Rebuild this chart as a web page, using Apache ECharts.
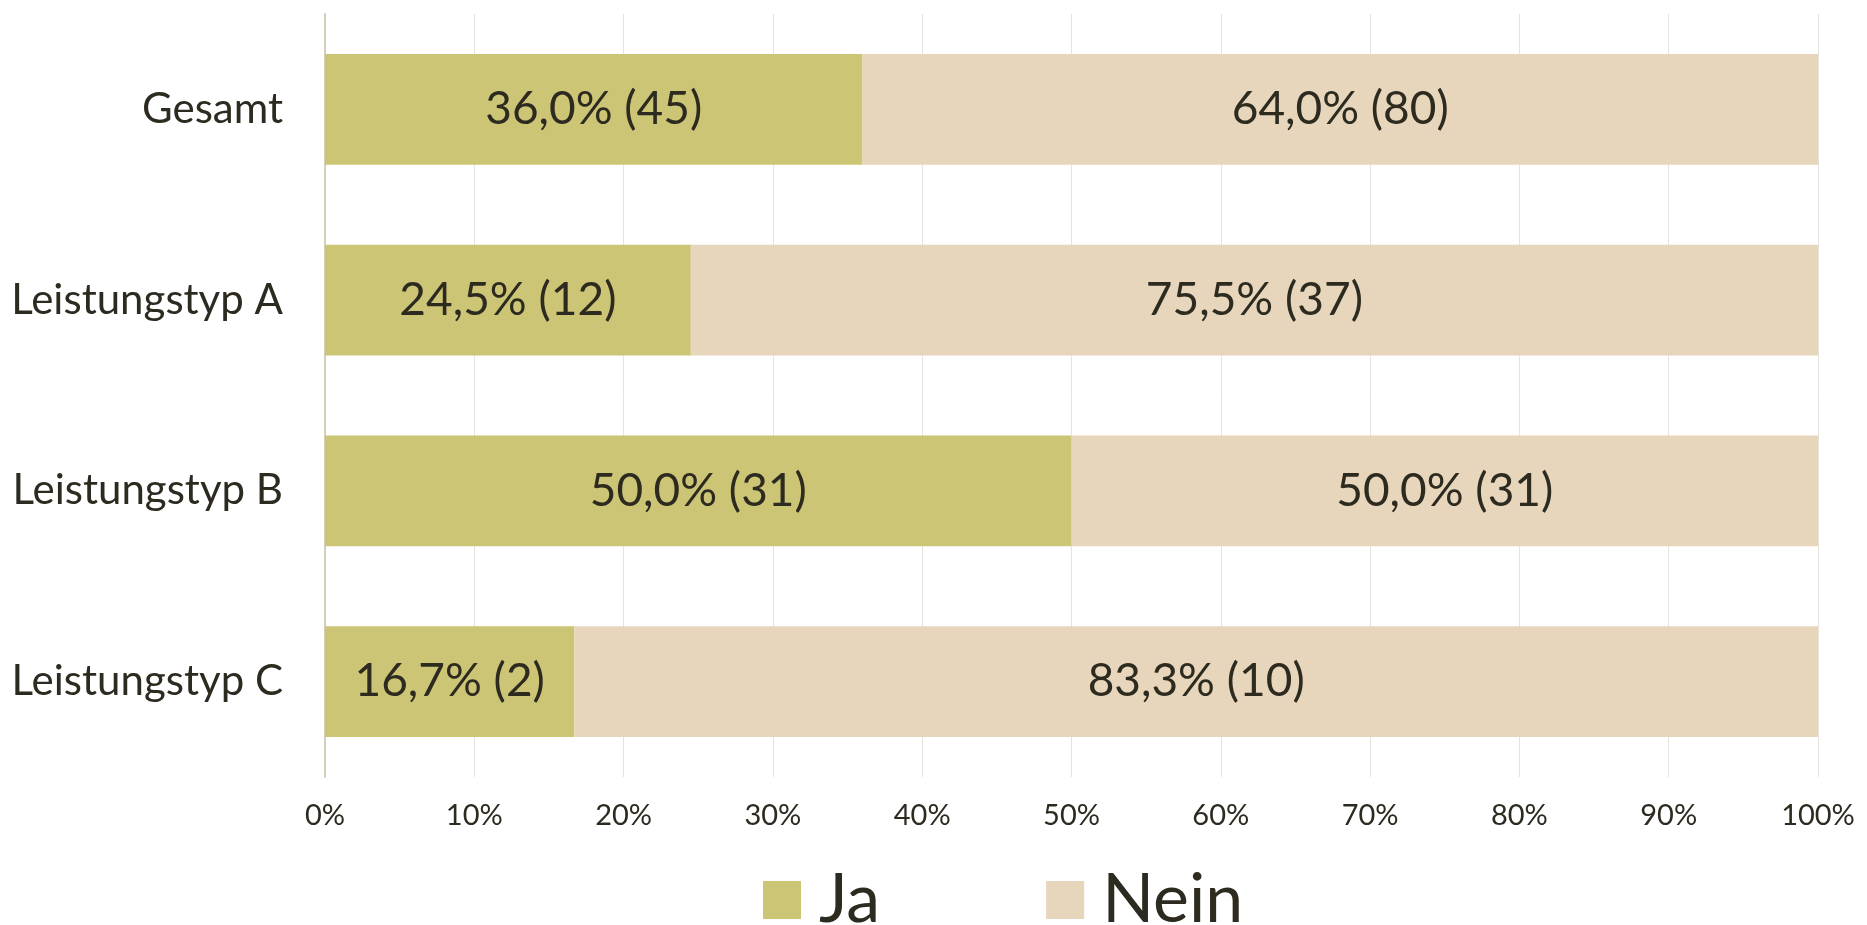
<!DOCTYPE html>
<html>
<head>
<meta charset="utf-8">
<script src="https://cdn.jsdelivr.net/npm/echarts@6/dist/echarts.min.js"></script>
<style>
html,body{margin:0;padding:0;background:#fff;}
#chart{width:1867px;height:925px;}
</style>
</head>
<body>
<div id="chart"></div>
<script>
const categories = ['Gesamt', 'Leistungstyp A', 'Leistungstyp B', 'Leistungstyp C'];
const seriesNames = ['Ja', 'Nein'];
const jaPct = [36.0, 24.5, 50.0, 16.7];
const neinPct = [64.0, 75.5, 50.0, 83.3];
const jaCount = [45, 12, 31, 2];
const neinCount = [80, 37, 31, 10];
const xTicks = [0, 10, 20, 30, 40, 50, 60, 70, 80, 90, 100];

const FONT = 'Lato';
const TXT = '#2D2A20';

function fmt(p, n) {
  return p.toFixed(1).replace('.', ',') + '% (' + n + ')';
}

const chart = echarts.init(document.getElementById('chart'));
chart.setOption({
  animation: false,
  backgroundColor: '#ffffff',
  textStyle: { fontFamily: FONT, color: TXT },
  grid: { left: 325, right: 49, top: 14, bottom: 148, containLabel: false },
  legend: {
    data: seriesNames,
    left: 758,
    top: 861,
    itemWidth: 38,
    itemHeight: 38,
    itemGap: 166,
    icon: 'rect',
    textStyle: { fontFamily: FONT, fontSize: 68, color: TXT, padding: [0, 0, 0, 13] }
  },
  xAxis: {
    type: 'value',
    min: xTicks[0],
    max: xTicks[xTicks.length - 1],
    interval: 10,
    axisLine: { show: false },
    axisTick: { show: false },
    splitLine: { show: true, lineStyle: { color: '#E6E3DA', width: 1 } },
    axisLabel: { margin: 24, fontFamily: FONT, fontSize: 29, color: TXT, formatter: v => v + '%' }
  },
  yAxis: {
    type: 'category',
    inverse: true,
    data: categories,
    axisLine: { show: true, lineStyle: { color: '#D3CFBA', width: 2 } },
    axisTick: { show: false },
    axisLabel: { margin: 42, fontFamily: FONT, fontSize: 42, color: TXT }
  },
  series: [
    {
      name: seriesNames[0],
      type: 'bar',
      stack: 'total',
      barCategoryGap: '42%',
      itemStyle: { color: '#CCC576' },
      label: {
        show: true, position: 'inside', fontFamily: FONT, fontSize: 46, color: TXT,
        formatter: p => fmt(jaPct[p.dataIndex], jaCount[p.dataIndex])
      },
      data: jaPct
    },
    {
      name: seriesNames[1],
      type: 'bar',
      stack: 'total',
      barCategoryGap: '42%',
      itemStyle: { color: '#E7D6BB' },
      label: {
        show: true, position: 'inside', fontFamily: FONT, fontSize: 46, color: TXT,
        formatter: p => fmt(neinPct[p.dataIndex], neinCount[p.dataIndex])
      },
      data: neinPct
    }
  ]
});
</script>
</body>
</html>
